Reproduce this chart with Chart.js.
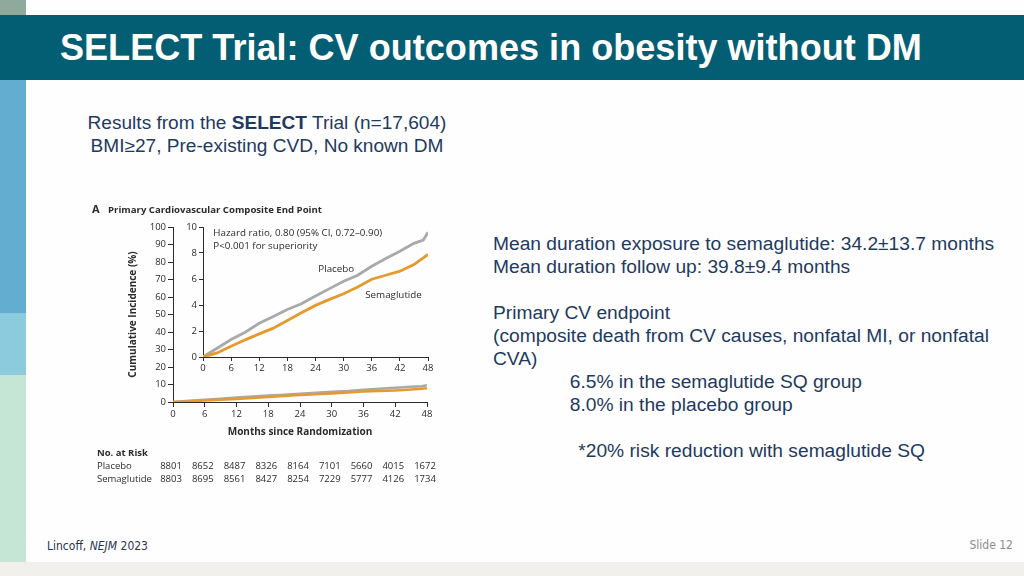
<!DOCTYPE html>
<html>
<head>
<meta charset="utf-8">
<script src="https://cdn.jsdelivr.net/npm/chart.js@4.4.0/dist/chart.umd.min.js"></script>
<style>
  html, body { margin: 0; padding: 0; }
  body { width: 1024px; height: 576px; position: relative; overflow: hidden; background: #fefefe; font-family: "Liberation Sans", Arial, sans-serif; }
  .blk { position: absolute; }
  #header { left: 0; top: 15px; width: 1024px; height: 65px; background: #045e73; }
  #title { left: 60px; top: 15px; height: 65px; line-height: 65px; color: #fff; font-weight: bold; font-size: 37px; white-space: nowrap; transform: scaleX(0.975); transform-origin: left center; }
  .txt { position: absolute; color: #1f3a5f; white-space: nowrap; }
  #sub { left: 87px; top: 112px; width: 360px; text-align: center; font-size: 17.5px; line-height: 23px; transform: scaleX(1.09); transform-origin: center; }
  #notes { left: 493px; top: 233px; font-size: 18px; line-height: 23px; transform: scaleX(1.066); transform-origin: left top; }
  #footer { left: 47px; top: 539px; font-size: 12px; font-family: "Liberation Sans Narrow", "DejaVu Sans Condensed", sans-serif; color: #2a3550; }
  #slide { right: 11px; top: 538px; font-size: 12px; font-family: "Liberation Sans Narrow", "DejaVu Sans Condensed", sans-serif; color: #8c8c8c; }
  canvas { position: absolute; }
</style>
</head>
<body>
<div class="blk" style="left:0;top:0;width:26px;height:15px;background:#8fa99c"></div>
<div class="blk" id="header"></div>
<div class="blk" style="left:0;top:80px;width:26px;height:233px;background:#63aed0"></div>
<div class="blk" style="left:0;top:313px;width:26px;height:62px;background:#8ccbdd"></div>
<div class="blk" style="left:0;top:375px;width:26px;height:187px;background:#c5e6d5"></div>
<div class="blk" style="left:0;top:562px;width:1024px;height:14px;background:#f1f0ec"></div>
<div class="txt" id="title">SELECT Trial: CV outcomes in obesity without DM</div>

<div class="txt" id="sub">Results from the <b>SELECT</b> Trial (n=17,604)<br>BMI≥27, Pre-existing CVD, No known DM</div>

<div class="txt" id="notes">
Mean duration exposure to semaglutide: 34.2±13.7 months<br>
Mean duration follow up: 39.8±9.4 months<br>
<br>
Primary CV endpoint<br>
(composite death from CV causes, nonfatal MI, or nonfatal<br>
CVA)<br>
<span style="padding-left:72px">6.5% in the semaglutide SQ group</span><br>
<span style="padding-left:72px">8.0% in the placebo group</span><br>
<br>
<span style="padding-left:80px">*20% risk reduction with semaglutide SQ</span>
</div>

<div class="txt" id="footer">Lincoff, <i>NEJM</i> 2023</div>
<div class="txt" id="slide">Slide 12</div>

<canvas id="mainChart" width="360" height="300" style="left:90px;top:195px;width:360px;height:300px"></canvas>
<canvas id="insetChart" width="280" height="170" style="left:160px;top:215px;width:280px;height:170px"></canvas>

<script>
// Cumulative incidence (%)
const months = [0, 3, 6, 9, 12, 15, 18, 21, 24, 27, 30, 33, 36, 39, 42, 45, 47, 48];
const placebo = [0, 0.67, 1.34, 1.9, 2.6, 3.12, 3.66, 4.1, 4.69, 5.26, 5.82, 6.29, 6.98, 7.58, 8.14, 8.74, 9.0, 9.59];
const semaglutide = [0, 0.31, 0.82, 1.32, 1.78, 2.22, 2.81, 3.4, 3.97, 4.43, 4.87, 5.39, 5.98, 6.29, 6.6, 7.11, 7.63, 7.89];

// Number at risk table
const riskMonths = [0, 6, 12, 18, 24, 30, 36, 42, 48];
const riskPlacebo = [8801, 8652, 8487, 8326, 8164, 7101, 5660, 4015, 1672];
const riskSemaglutide = [8803, 8695, 8561, 8427, 8254, 7229, 5777, 4126, 1734];

const GRAY = '#a9a9a9';
const ORANGE = '#e69a2e';
const INK = '#2b2b2b';
const FONT = '"Open Sans", "Noto Sans", sans-serif';

function toPoints(ys) {
  return months.map((m, i) => ({ x: m, y: ys[i] }));
}

function datasets(width) {
  return [
    { label: 'Semaglutide', data: toPoints(semaglutide), borderColor: ORANGE, borderWidth: width, pointRadius: 0, tension: 0, fill: false },
    { label: 'Placebo', data: toPoints(placebo), borderColor: GRAY, borderWidth: width, pointRadius: 0, tension: 0, fill: false }
  ];
}

// shared axis look: outward ticks, no gridlines
function axis(min, max, step, tickLen, fit, title) {
  const ax = {
    type: 'linear', min, max,
    ticks: { stepSize: step, color: INK, font: { family: FONT, size: 9.5 }, padding: 2 },
    grid: { drawOnChartArea: false, drawTicks: true, tickLength: tickLen, color: INK, lineWidth: 1 },
    border: { display: true, color: INK, width: 1 },
    afterFit: fit
  };
  if (title) ax.title = { display: true, text: title, color: INK, font: { family: FONT, size: 10, weight: 'bold' }, padding: 2 };
  return ax;
}

const mainExtras = {
  id: 'mainExtras',
  afterDraw(chart) {
    const ctx = chart.ctx;
    const xs = chart.scales.x;
    ctx.save();
    ctx.fillStyle = INK;
    ctx.textBaseline = 'alphabetic';
    ctx.font = 'bold 11px ' + FONT;
    ctx.fillText('A', 2, 18);
    ctx.font = 'bold 9.6px ' + FONT;
    ctx.fillText('Primary Cardiovascular Composite End Point', 18, 18);

    ctx.textBaseline = 'middle';
    ctx.font = 'bold 9.5px ' + FONT;
    ctx.fillText('No. at Risk', 7, 258);
    ctx.font = '9.5px ' + FONT;
    ctx.fillText('Placebo', 7, 271);
    ctx.fillText('Semaglutide', 7, 284);
    ctx.textAlign = 'center';
    riskMonths.forEach((m, i) => {
      const px = xs.getPixelForValue(m) - 2;
      ctx.fillText(String(riskPlacebo[i]), px, 271);
      ctx.fillText(String(riskSemaglutide[i]), px, 284);
    });
    ctx.restore();
  }
};

const insetExtras = {
  id: 'insetExtras',
  afterDraw(chart) {
    const ctx = chart.ctx;
    const xs = chart.scales.x, ys = chart.scales.y;
    ctx.save();
    ctx.fillStyle = INK;
    ctx.textBaseline = 'middle';
    ctx.font = '9.8px ' + FONT;
    ctx.fillText('Hazard ratio, 0.80 (95% CI, 0.72\u20130.90)', xs.getPixelForValue(2.2), ys.getPixelForValue(9.55));
    ctx.fillText('P<0.001 for superiority', xs.getPixelForValue(2.2), ys.getPixelForValue(8.55));
    ctx.fillText('Placebo', xs.getPixelForValue(24.6), ys.getPixelForValue(6.78));
    ctx.fillText('Semaglutide', xs.getPixelForValue(34.6), ys.getPixelForValue(4.78));
    ctx.restore();
  }
};

new Chart(document.getElementById('mainChart'), {
  type: 'line',
  data: { datasets: datasets(2.5) },
  options: {
    responsive: false,
    animation: false,
    layout: { padding: { left: 35, top: 32, right: 23, bottom: 55 } },
    plugins: { legend: { display: false }, tooltip: { enabled: false } },
    scales: {
      x: axis(0, 48, 6, 5, s => { s.height = 38; }, 'Months since Randomization'),
      y: axis(0, 100, 10, 5, s => { s.width = 48; }, 'Cumulative Incidence (%)')
    }
  },
  plugins: [mainExtras]
});

new Chart(document.getElementById('insetChart'), {
  type: 'line',
  data: { datasets: datasets(2.8) },
  options: {
    responsive: false,
    animation: false,
    layout: { padding: { left: 0, top: 12, right: 12, bottom: 8 } },
    plugins: { legend: { display: false }, tooltip: { enabled: false } },
    scales: {
      x: axis(0, 48, 6, 4, s => { s.height = 20; }),
      y: axis(0, 10, 2, 4, s => { s.width = 43; })
    }
  },
  plugins: [insetExtras]
});
</script>
</body>
</html>
